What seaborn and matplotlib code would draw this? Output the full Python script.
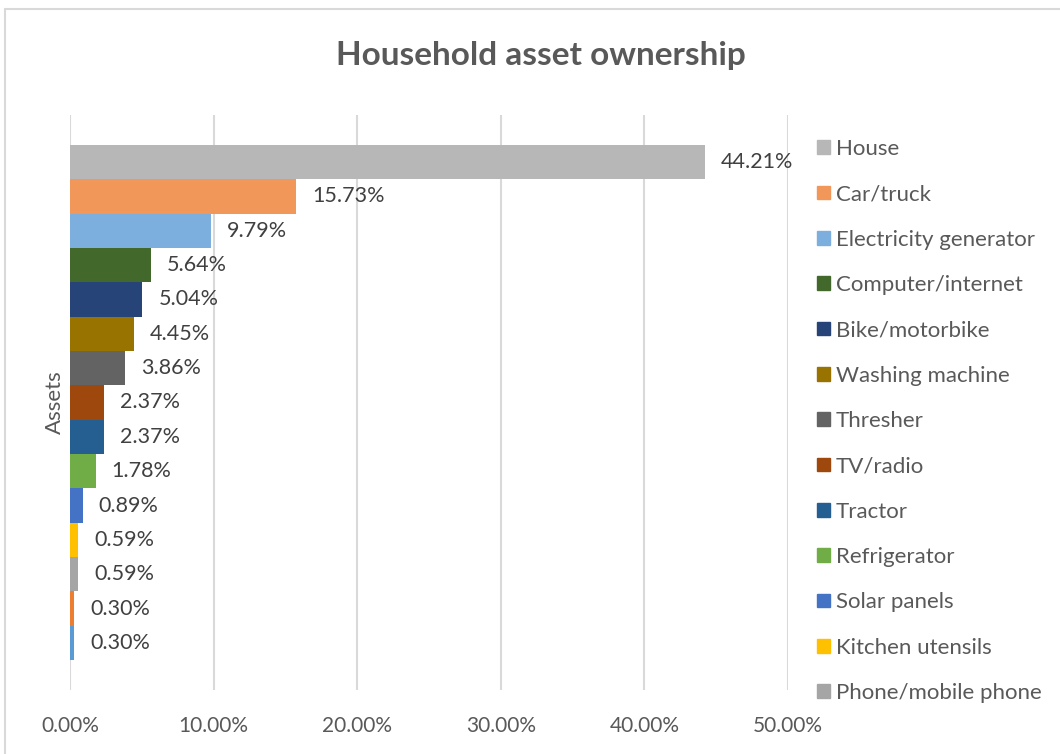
import matplotlib
matplotlib.use("Agg")
import matplotlib.pyplot as plt
from matplotlib.patches import Rectangle
from matplotlib.ticker import FuncFormatter
import pandas as pd
import seaborn as sns

# Household asset ownership shares (%), one bar per asset
assets = [
    "House", "Car/truck", "Electricity generator", "Computer/internet",
    "Bike/motorbike", "Washing machine", "Thresher", "TV/radio", "Tractor",
    "Refrigerator", "Solar panels", "Kitchen utensils", "Phone/mobile phone",
    "Other asset A", "Other asset B",
]
shares = [44.21, 15.73, 9.79, 5.64, 5.04, 4.45, 3.86, 2.37, 2.37,
          1.78, 0.89, 0.59, 0.59, 0.30, 0.30]
colors = ["#B7B7B7", "#F1975A", "#7CAFDD", "#43682B", "#264478", "#997300",
          "#636363", "#9E480E", "#255E91", "#70AD47", "#4472C4", "#FFC000",
          "#A5A5A5", "#ED7D31", "#5B9BD5"]
x_ticks = [0, 10, 20, 30, 40, 50]
legend_count = 13

sns.set_theme(style="white")
plt.rcParams["font.family"] = ["Lato", "DejaVu Sans"]

df = pd.DataFrame({"asset": assets, "share": shares, "group": "Assets"})

fig = plt.figure(figsize=(10.6, 7.54), dpi=100)
ax = fig.add_axes([70 / 1060, 64 / 754, 718 / 1060, 575 / 754])

sns.barplot(data=df, x="share", y="group", hue="asset", hue_order=assets,
            palette=colors, orient="h", dodge=True, width=0.896,
            saturation=1, linewidth=0, legend=False, ax=ax)

for cont, v in zip(ax.containers, shares):
    ax.bar_label(cont, labels=[f"{v:.2f}%"], padding=11.5, fontsize=15.5,
                 color="#404040")

ax.set_xlim(0, 50)
ax.set_ylim(0.5, -0.5)
ax.set_xticks(x_ticks)
ax.xaxis.set_major_formatter(FuncFormatter(lambda v, p: f"{v:.2f}%"))
ax.tick_params(axis="x", labelsize=15, labelcolor="#595959", pad=19, length=0)
ax.set_yticks([])
ax.set_xlabel("")
ax.set_ylabel("Assets", fontsize=16, color="#595959", labelpad=4)
ax.grid(axis="x", color="#D9D9D9", linewidth=1.5)
ax.set_axisbelow(True)
for s in ax.spines.values():
    s.set_visible(False)

handles = [Rectangle((0, 0), 1, 1, color=c) for c in colors[:legend_count]]
leg = fig.legend(handles, assets[:legend_count], loc="upper left",
                 bbox_to_anchor=(817 / 1060, 1 - 139 / 754), frameon=False,
                 fontsize=16, labelspacing=1.14, handlelength=0.59,
                 handleheight=0.59, handletextpad=0.27, borderaxespad=0,
                 borderpad=0)
for t in leg.get_texts():
    t.set_color("#595959")

fig.text(541 / 1060, 1 - 55 / 754, "Household asset ownership", ha="center",
         va="center", fontsize=24, fontweight="bold", color="#595959")

fig.patches.append(Rectangle((5 / 1060, -0.01), 1.0, 1 - 9 / 754 + 0.01,
                             transform=fig.transFigure, fill=False,
                             edgecolor="#D9D9D9", linewidth=1.5))

fig.savefig("out.png", dpi=100)
